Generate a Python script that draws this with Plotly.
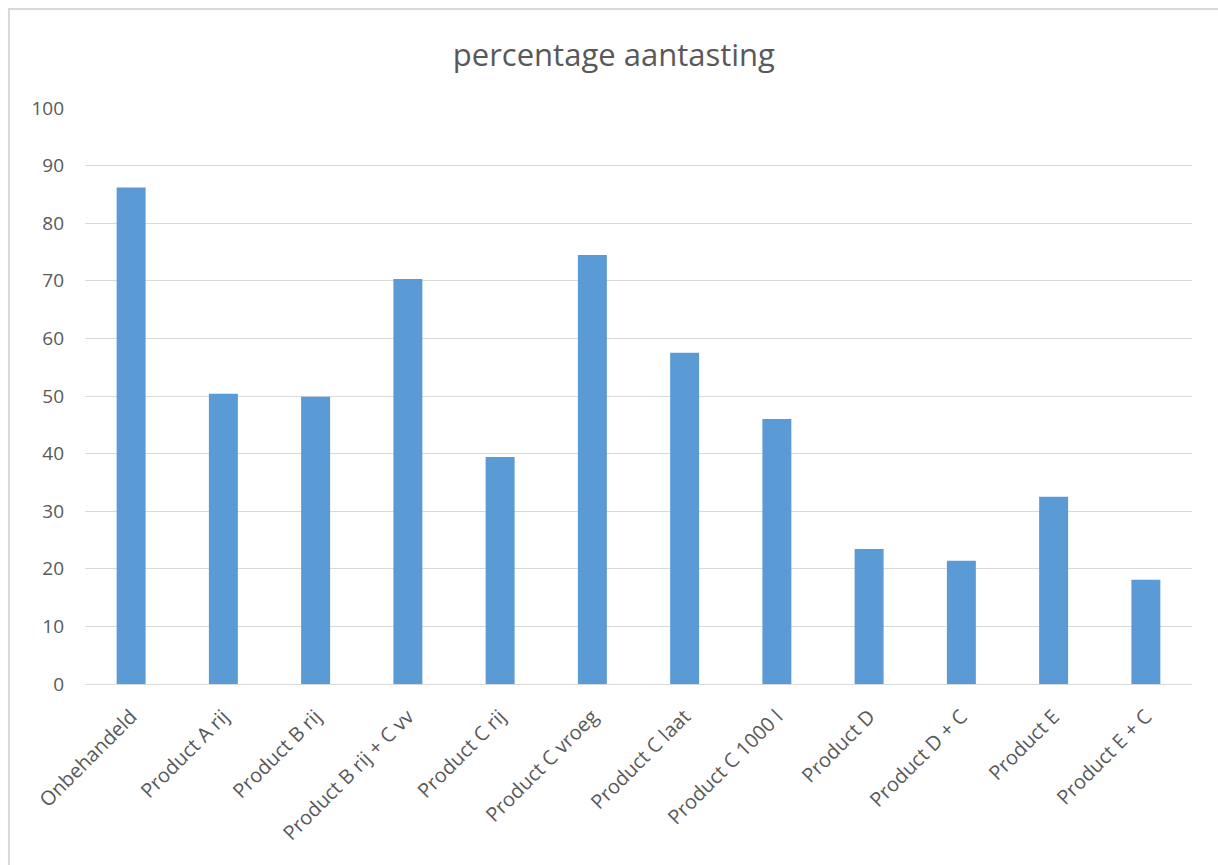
import plotly.graph_objects as go

# Behandelingen en percentage aantasting per behandeling
categories = [
    "Onbehandeld", "Product A rij", "Product B rij", "Product B rij + C vv",
    "Product C rij", "Product C vroeg", "Product C laat", "Product C 1000 l",
    "Product D", "Product D + C", "Product E", "Product E + C",
]
aantasting = [86.2, 50.4, 49.85, 70.3, 39.4, 74.5, 57.5, 46.0, 23.45, 21.4, 32.5, 18.1]

y_ticks = list(range(0, 101, 10))

FONT = "Open Sans"
GREY_TEXT = "#595959"
GRID = "#d9d9d9"

fig = go.Figure(
    go.Bar(
        x=categories,
        y=aantasting,
        marker=dict(color="#5b9bd5", line=dict(width=0)),
    )
)

fig.update_layout(
    width=1218,
    height=865,
    margin=dict(l=85, r=26, t=108, b=181),
    paper_bgcolor="white",
    plot_bgcolor="white",
    bargap=0.686,
    showlegend=False,
    font=dict(family=FONT, color=GREY_TEXT, size=19),
    title=dict(
        text="percentage aantasting",
        x=0.504,
        xref="container",
        xanchor="center",
        y=0.9364,
        yref="container",
        yanchor="middle",
        font=dict(family=FONT, size=31, color=GREY_TEXT),
    ),
    xaxis=dict(
        tickangle=-45,
        showgrid=False,
        showline=False,
        ticks="",
        ticklabelstandoff=16,
        tickfont=dict(family=FONT, size=20, color=GREY_TEXT),
    ),
    yaxis=dict(
        range=[0, 100],
        tickvals=y_ticks,
        showgrid=True,
        gridcolor=GRID,
        gridwidth=1,
        zeroline=True,
        zerolinecolor=GRID,
        zerolinewidth=1,
        showline=False,
        ticks="",
        ticklabelstandoff=20,
        tickfont=dict(family=FONT, size=19, color=GREY_TEXT),
    ),
)

# Rand van het grafiekvlak
fig.add_shape(
    type="rect",
    xref="paper", yref="paper",
    x0=-0.0687, x1=1.2, y0=-0.6, y1=1.1719,
    line=dict(color=GRID, width=2),
    fillcolor="rgba(0,0,0,0)",
    layer="below",
)

fig.write_html("out.html")
